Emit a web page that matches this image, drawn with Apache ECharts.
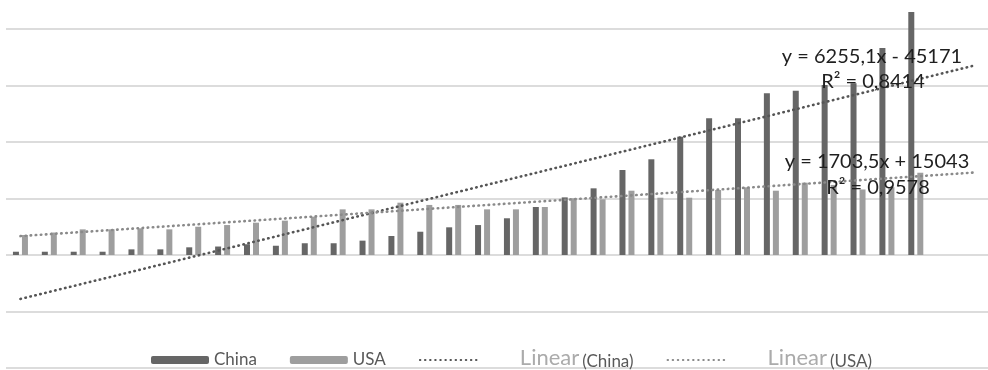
<!DOCTYPE html>
<html>
<head>
<meta charset="utf-8">
<script src="https://cdn.jsdelivr.net/npm/echarts@6/dist/echarts.min.js"></script>
<style>
  html, body { margin: 0; padding: 0; background: #ffffff; }
  #chart { width: 988px; height: 370px; }
</style>
</head>
<body>
<div id="chart"></div>
<script>
// Period index (1-based, as used by the linear fits)
const categories = ['1','2','3','4','5','6','7','8','9','10','11','12','13','14','15','16','17',
  '18','19','20','21','22','23','24','25','26','27','28','29','30','31','32','33','34'];

const chinaValues = [2900, 2900, 2900, 2900, 5000, 5000, 6800, 7500, 9500, 8200, 10400,
  10400, 12700, 16800, 20600, 24500, 26500, 32500, 42500, 51000, 59000, 75200, 84700,
  104700, 121000, 121000, 143100, 145400, 150400, 152000, 183200, 215000];

const usaValues = [17700, 19900, 22700, 22700, 23600, 22700, 25000, 26500, 28600, 30400,
  33900, 40400, 40400, 46300, 44300, 44300, 40400, 40400, 42500, 50200, 49300, 56900,
  50700, 50700, 57500, 59900, 56900, 64000, 62000, 58000, 60000, 72800];

// Linear trend coefficients: y = slope * x + intercept
const chinaFit = { slope: 6255.1, intercept: -45171, r2: 0.8414 };
const usaFit = { slope: 1703.5, intercept: 15043, r2: 0.9578 };

const FONT = 'Lato, "Open Sans", sans-serif';

function fmtNum(v, digits) {
  return v.toFixed(digits).replace('.', ',');
}
function eqText(fit) {
  const sign = fit.intercept < 0 ? '-' : '+';
  return 'y = ' + fmtNum(fit.slope, 1) + 'x ' + sign + ' ' + Math.abs(fit.intercept);
}
function r2Text(fit) {
  return 'R\u00B2 = ' + fmtNum(fit.r2, 4);
}
// Trend line endpoints across the whole category range
function trendPoints(fit) {
  const n = categories.length;
  return [[0, fit.slope * 1 + fit.intercept], [n - 1, fit.slope * n + fit.intercept]];
}

const chart = echarts.init(document.getElementById('chart'), null, { renderer: 'canvas' });

// "Linear" sits larger, lighter and raised; the series name follows in normal legend text
const linearRich = {
  a: { color: '#ababab', fontSize: 22, fontFamily: FONT, verticalAlign: 'bottom', padding: [0, 0, 1, 37] },
  b: { color: '#595959', fontSize: 17, fontFamily: FONT, lineHeight: 20, verticalAlign: 'bottom', padding: [0, 0, 0, 3] }
};

const dotted = [0.5, 4.6];

function labelText(x, y, text) {
  return {
    type: 'text', x: x, y: y, z: 20,
    style: { text: text, fill: '#1f1f1f', font: '20px ' + FONT, textAlign: 'center', textVerticalAlign: 'middle' }
  };
}

chart.setOption({
  animation: false,
  backgroundColor: '#ffffff',
  grid: { left: 6, right: -14, top: 29, bottom: 2, containLabel: false },
  xAxis: {
    type: 'category',
    data: categories,
    boundaryGap: true,
    axisLine: { show: false },
    axisTick: { show: false },
    axisLabel: { show: false },
    splitLine: { show: false }
  },
  yAxis: {
    type: 'value',
    min: -100000,
    max: 200000,
    interval: 50000,
    axisLine: { show: false },
    axisTick: { show: false },
    axisLabel: { show: false },
    splitLine: { show: true, lineStyle: { color: '#dcdcdc', width: 2 } }
  },
  legend: {
    left: 146,
    top: 342,
    itemWidth: 58,
    itemHeight: 8,
    itemGap: 33,
    textStyle: { color: '#595959', fontSize: 17, fontFamily: FONT, lineHeight: 20, rich: linearRich },
    formatter: function (name) {
      if (name.indexOf('Linear') === 0) {
        return '{a|Linear}{b|' + name.slice(7) + '}';
      }
      return name;
    },
    data: [
      'China',
      'USA',
      { name: 'Linear (China)', itemStyle: { opacity: 0 } },
      { name: 'Linear (USA)', itemStyle: { opacity: 0 } }
    ]
  },
  series: [
    {
      name: 'China',
      type: 'bar',
      data: chinaValues,
      barWidth: 6,
      barGap: '50%',
      clip: false,
      itemStyle: { color: '#666666' }
    },
    {
      name: 'USA',
      type: 'bar',
      data: usaValues,
      barWidth: 6,
      clip: false,
      itemStyle: { color: '#9e9e9e' }
    },
    {
      name: 'Linear (China)',
      type: 'line',
      data: trendPoints(chinaFit),
      symbol: 'none',
      z: 5,
      clip: false,
      lineStyle: { color: '#555555', width: 2.6, type: dotted, cap: 'round' },
      itemStyle: { color: '#555555' }
    },
    {
      name: 'Linear (USA)',
      type: 'line',
      data: trendPoints(usaFit),
      symbol: 'none',
      z: 5,
      clip: false,
      lineStyle: { color: '#8a8a8a', width: 2.6, type: dotted, cap: 'round' },
      itemStyle: { color: '#8a8a8a' }
    }
  ],
  graphic: [
    labelText(872, 57, eqText(chinaFit)),
    labelText(873, 82, r2Text(chinaFit)),
    labelText(877, 162, eqText(usaFit)),
    labelText(878, 188, r2Text(usaFit))
  ]
});
</script>
</body>
</html>
